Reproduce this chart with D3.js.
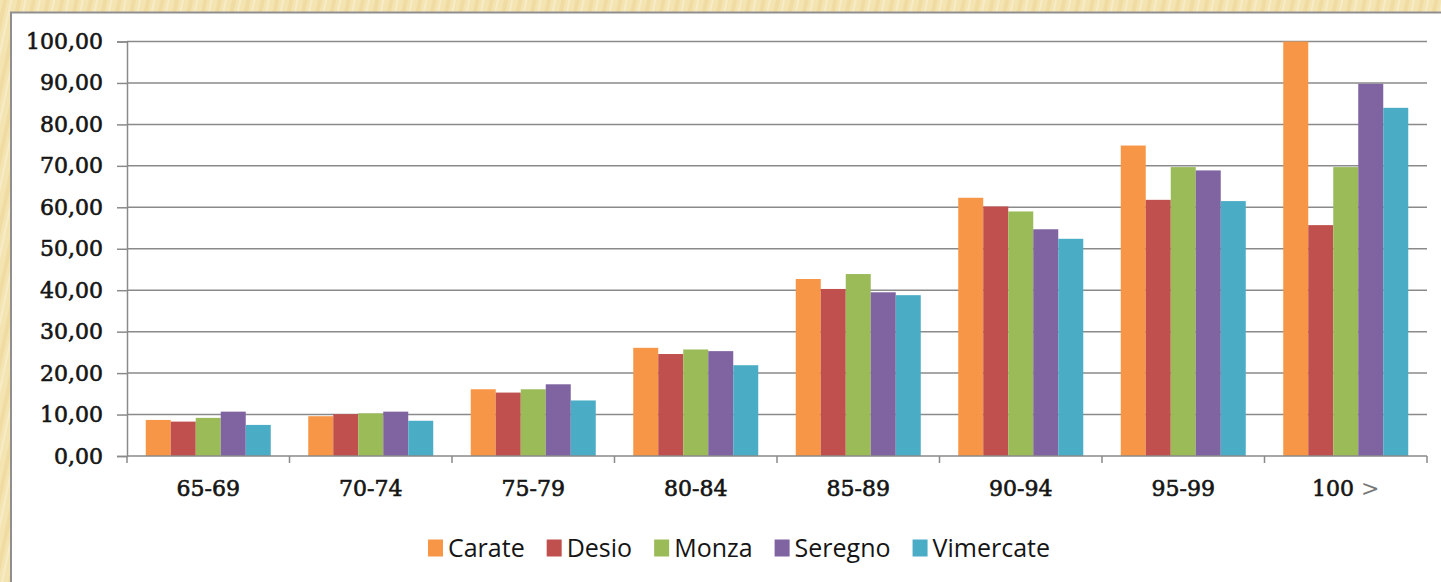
<!DOCTYPE html>
<html>
<head>
<meta charset="utf-8">
<script src="https://cdn.jsdelivr.net/npm/d3@7"></script>
<style>
  html, body { margin: 0; padding: 0; background: #f3e3b3; }
  svg { display: block; }
</style>
</head>
<body>
<svg id="chart" width="1441" height="582"></svg>
<script>
// age classes and cities
var ageGroups = ["65-69", "70-74", "75-79", "80-84", "85-89", "90-94", "95-99", "100 >"];
var cities = ["Carate", "Desio", "Monza", "Seregno", "Vimercate"];
var colors = ["#f79646", "#c0504d", "#9bbb59", "#8064a2", "#4bacc6"];

// values per city, one per age class
var carate    = [8.7, 9.6, 16.1, 26.1, 42.7, 62.3, 74.9, 100.0];
var desio     = [8.3, 10.1, 15.3, 24.6, 40.3, 60.2, 61.8, 55.7];
var monza     = [9.2, 10.3, 16.1, 25.7, 43.9, 59.0, 69.7, 69.7];
var seregno   = [10.7, 10.7, 17.3, 25.3, 39.5, 54.7, 68.9, 89.8];
var vimercate = [7.5, 8.5, 13.4, 21.9, 38.8, 52.4, 61.5, 84.0];
var yTicks = [0, 10, 20, 30, 40, 50, 60, 70, 80, 90, 100];

(function () {
    var series = [carate, desio, monza, seregno, vimercate];
    var data = ageGroups.map(function (g, i) {
        return { group: g, values: cities.map(function (c, j) { return { name: c, value: series[j][i] }; }) };
    });

    var svg = d3.select("#chart");
    var W = 1441, H = 582;
    var plotLeft = 127, plotRight = 1427, plotTop = 41.5, plotBottom = 456;

    // textured background
    var defs = svg.append("defs");
    var pat = defs.append("pattern").attr("id", "bg").attr("width", 14).attr("height", 40)
        .attr("patternUnits", "userSpaceOnUse").attr("patternTransform", "rotate(12)");
    pat.append("rect").attr("width", 14).attr("height", 40).attr("fill", "#f4e4b2");
    pat.append("rect").attr("x", 3).attr("width", 4).attr("height", 40).attr("fill", "#edd597").attr("opacity", 0.6);
    pat.append("rect").attr("x", 10).attr("width", 2).attr("height", 40).attr("fill", "#f8edcc").attr("opacity", 0.8);
    svg.append("rect").attr("width", W).attr("height", H).attr("fill", "url(#bg)");

    // chart box
    svg.append("rect").attr("x", 11).attr("y", 12.5).attr("width", W).attr("height", H)
        .attr("fill", "#ffffff").attr("stroke", "#8f8f8f").attr("stroke-width", 2);

    var x0 = d3.scaleBand().domain(ageGroups).range([plotLeft, plotRight]).padding(0);
    var x1 = d3.scaleBand().domain(cities).range([0, x0.bandwidth()]).paddingInner(0).paddingOuter(0.75);
    var y = d3.scaleLinear().domain([0, 100]).range([plotBottom, plotTop]);
    var color = d3.scaleOrdinal().domain(cities).range(colors);

    var it = d3.formatLocale({ decimal: ",", thousands: ".", grouping: [3], currency: ["", "€"] });
    var fmt = it.format(".2f");

    // gridlines
    svg.append("g").attr("class", "grid")
        .selectAll("line").data(yTicks.filter(function (d) { return d > 0; }))
        .enter().append("line")
        .attr("x1", plotLeft).attr("x2", plotRight)
        .attr("y1", function (d) { return y(d); }).attr("y2", function (d) { return y(d); })
        .attr("stroke", "#8a8a8a").attr("stroke-width", 1.5);

    // bars
    svg.append("g").attr("class", "bars")
        .selectAll("g").data(data)
        .enter().append("g")
        .attr("transform", function (d) { return "translate(" + x0(d.group) + ",0)"; })
        .selectAll("rect").data(function (d) { return d.values; })
        .enter().append("rect")
        .attr("x", function (d) { return x1(d.name); })
        .attr("width", x1.bandwidth())
        .attr("y", function (d) { return y(d.value); })
        .attr("height", function (d) { return y(0) - y(d.value); })
        .attr("fill", function (d) { return color(d.name); });

    function serif(sel) {
        sel.style("font-family", "'DejaVu Serif', serif").style("font-size", "22px")
            .attr("fill", "#151515").attr("stroke", "#151515").attr("stroke-width", 0.6);
    }

    // y axis
    var yAxis = svg.append("g").attr("class", "y axis")
        .attr("transform", "translate(" + plotLeft + ",0)")
        .call(d3.axisLeft(y).tickValues(yTicks).tickFormat(fmt).tickSize(10).tickPadding(14));
    yAxis.select(".domain").attr("stroke", "#8a8a8a").attr("stroke-width", 1.5);
    yAxis.selectAll(".tick line").attr("stroke", "#8a8a8a").attr("stroke-width", 1.5);
    serif(yAxis.selectAll("text"));

    // x axis
    var xAxis = svg.append("g").attr("class", "x axis")
        .attr("transform", "translate(0," + plotBottom + ")")
        .call(d3.axisBottom(x0).tickSize(0).tickPadding(24));
    xAxis.select(".domain").remove();
    xAxis.append("line").attr("x1", plotLeft).attr("x2", plotRight)
        .attr("stroke", "#8a8a8a").attr("stroke-width", 1.5);
    xAxis.selectAll(".sep").data(ageGroups.concat([null]))
        .enter().append("line").attr("class", "sep")
        .attr("x1", function (d, i) { return plotLeft + i * x0.step(); })
        .attr("x2", function (d, i) { return plotLeft + i * x0.step(); })
        .attr("y1", 0).attr("y2", 7)
        .attr("stroke", "#8a8a8a").attr("stroke-width", 1.5);
    var xt = xAxis.selectAll(".tick text");
    serif(xt);
    xt.attr("dy", "0.71em");
    // the ">" of the last class is drawn lighter
    xt.filter(function (d) { return d.indexOf(">") >= 0; })
        .text(function (d) { return d.replace(">", ""); })
        .append("tspan").attr("fill", "#777").attr("stroke", "none").text(">");

    // legend
    var legend = svg.append("g").attr("class", "legend");
    var items = legend.selectAll("g").data(cities).enter().append("g");
    items.append("rect").attr("width", 15).attr("height", 17).attr("y", -8.5)
        .attr("fill", function (d) { return color(d); });
    items.append("text").attr("x", 20).attr("dy", "0.36em")
        .style("font-family", "'Open Sans', sans-serif").style("font-size", "25px")
        .attr("fill", "#151515")
        .text(function (d) { return d; });
    var lx = 0;
    items.each(function () {
        var g = d3.select(this);
        g.attr("transform", "translate(" + lx + ",0)");
        lx += 20 + g.select("text").node().getComputedTextLength() + 22;
    });
    var legendW = lx - 22;
    legend.attr("transform", "translate(" + (1050 - legendW) + ",548)");
})();
</script>
</body>
</html>
